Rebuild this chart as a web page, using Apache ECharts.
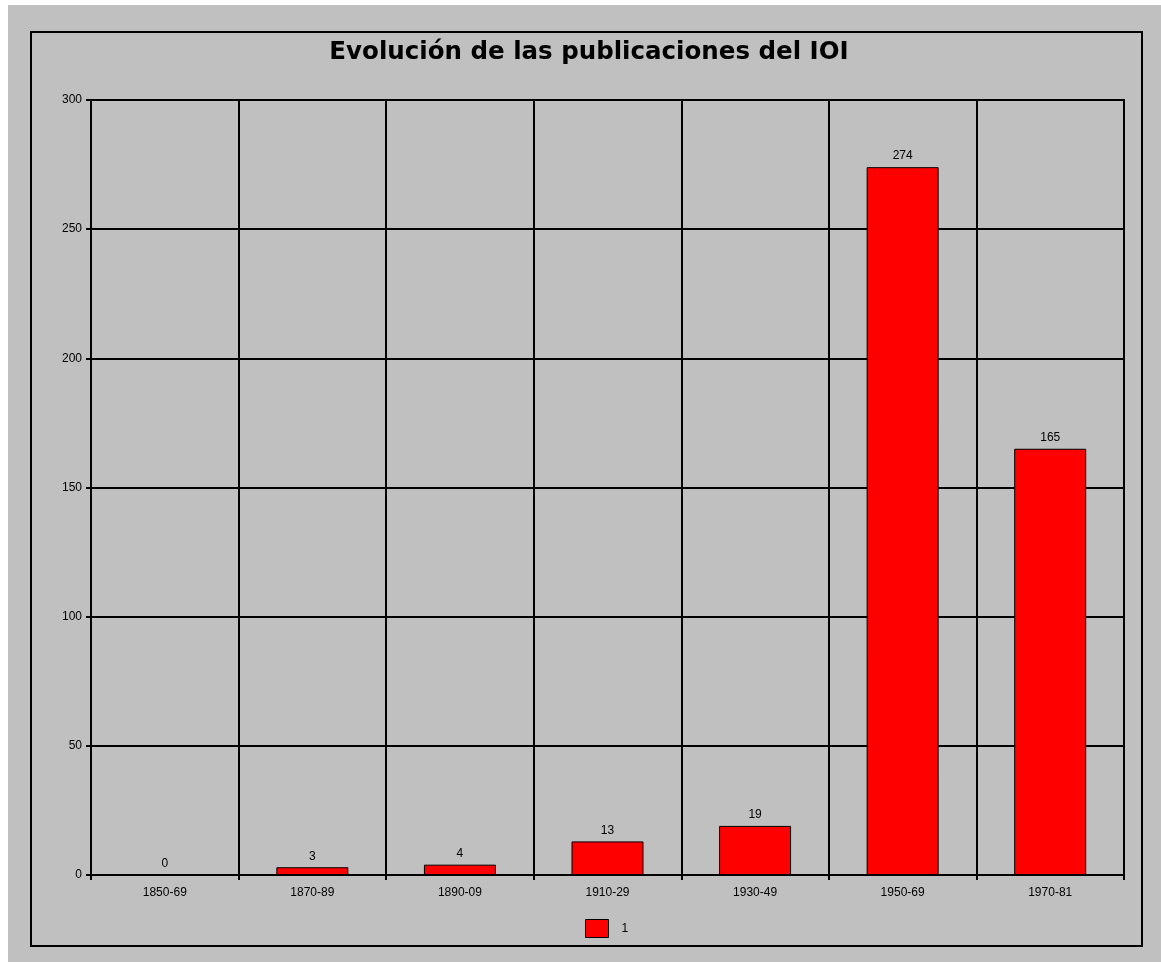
<!DOCTYPE html>
<html>
<head>
<meta charset="utf-8">
<script src="https://cdn.jsdelivr.net/npm/echarts@6/dist/echarts.min.js"></script>
<style>
html,body{margin:0;padding:0;background:#ffffff;}
#chart{width:1161px;height:962px;}
</style>
</head>
<body>
<div id="chart"></div>
<script>
var categories = ['1850-69', '1870-89', '1890-09', '1910-29', '1930-49', '1950-69', '1970-81'];
var values = [0, 3, 4, 13, 19, 274, 165];
var seriesName = '1';
var titleText = 'Evolución de las publicaciones del IOI';

var chart = echarts.init(document.getElementById('chart'), null, {renderer: 'canvas'});
var font = 'Liberation Sans, Arial, sans-serif';
chart.setOption({
  backgroundColor: '#ffffff',
  animation: false,
  graphic: [
    {type: 'rect', z: -10, shape: {x: 8, y: 5, width: 1153, height: 957}, style: {fill: '#c0c0c0'}, silent: true},
    {type: 'rect', z: -9, shape: {x: 31, y: 32, width: 1111, height: 914}, style: {fill: 'none', stroke: '#000', lineWidth: 2}, silent: true}
  ],
  title: {
    text: titleText,
    left: 584,
    textAlign: 'center',
    top: 35,
    textStyle: {fontFamily: 'DejaVu Sans, Liberation Sans, sans-serif', fontSize: 24.5, fontWeight: 'bold', color: '#000'}
  },
  legend: {
    left: 585,
    top: 919,
    itemWidth: 23,
    itemHeight: 18,
    icon: 'rect',
    padding: 0,
    textStyle: {fontFamily: font, fontSize: 12, color: '#000', padding: [0, 0, 0, 8]},
    data: [{name: seriesName, itemStyle: {color: '#ff0000', borderColor: '#000', borderWidth: 1}}]
  },
  grid: {left: 91, top: 100, right: 37, bottom: 87, show: true, borderColor: '#000', borderWidth: 2, backgroundColor: 'transparent'},
  xAxis: {
    type: 'category',
    data: categories,
    axisLine: {lineStyle: {color: '#000', width: 2}},
    axisTick: {show: true, alignWithLabel: false, interval: 0, length: 5, lineStyle: {color: '#000', width: 2}},
    splitLine: {show: true, interval: 0, lineStyle: {color: '#000', width: 2}},
    axisLabel: {interval: 0, margin: 12, fontFamily: font, fontSize: 12, color: '#000'}
  },
  yAxis: {
    type: 'value',
    min: 0,
    max: 300,
    interval: 50,
    axisLine: {show: true, lineStyle: {color: '#000', width: 2}},
    axisTick: {show: true, length: 5, lineStyle: {color: '#000', width: 2}},
    splitLine: {show: true, lineStyle: {color: '#000', width: 2}},
    axisLabel: {margin: 9, fontFamily: font, fontSize: 12, color: '#000'}
  },
  series: [{
    name: seriesName,
    type: 'bar',
    data: values,
    barWidth: 72,
    itemStyle: {color: '#ff0000', borderColor: '#000', borderWidth: 1},
    label: {show: true, position: 'top', distance: 5, fontFamily: font, fontSize: 12, color: '#000'}
  }]
});
</script>
</body>
</html>
